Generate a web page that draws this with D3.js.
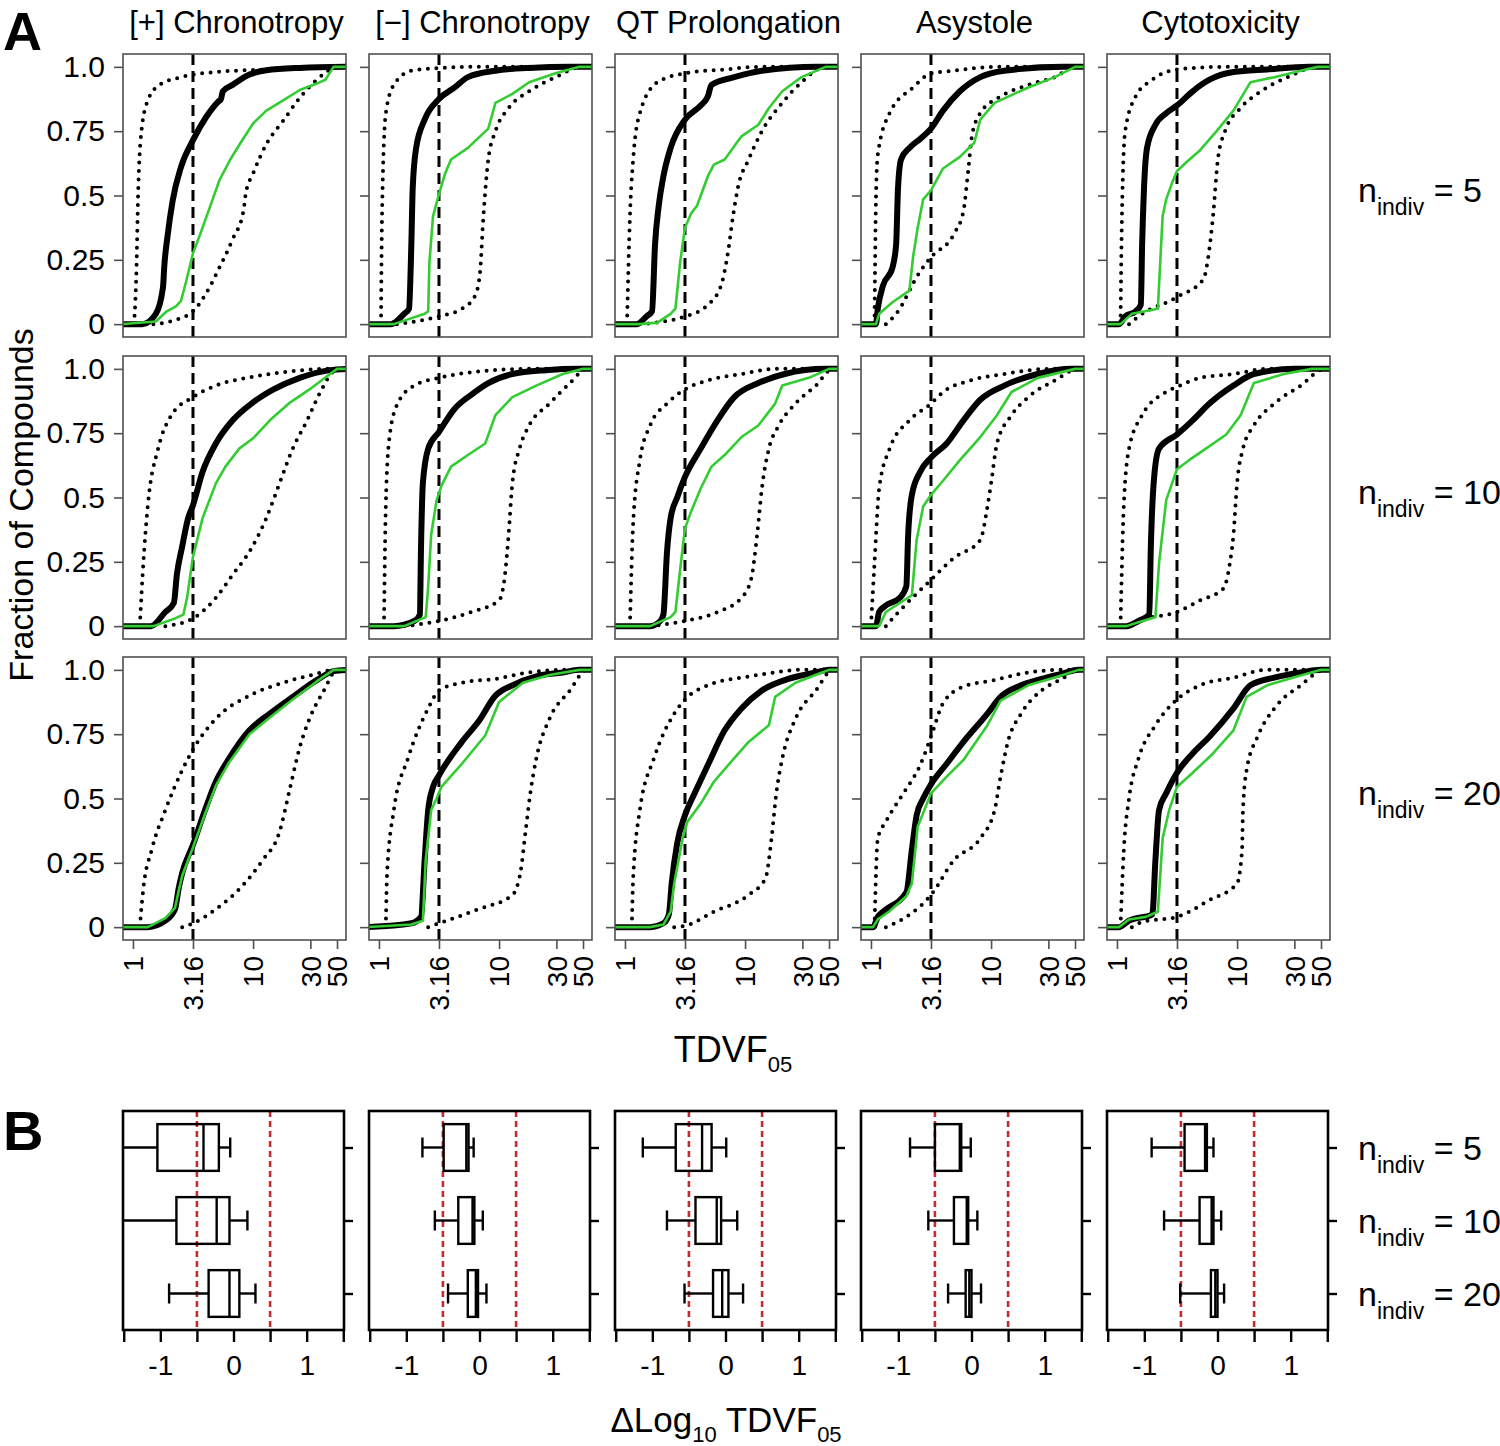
<!DOCTYPE html>
<html><head><meta charset="utf-8">
<script src="https://cdn.jsdelivr.net/npm/d3@7"></script>
<style>body{margin:0;background:#fff}text{font-family:"Liberation Sans",Arial,sans-serif;fill:#000}</style>
</head><body>
<svg id="c" width="1500" height="1446"></svg>
<script>
// ---------------- DATA ----------------
const endpoints = ["[+] Chronotropy","[\u2212] Chronotropy","QT Prolongation","Asystole","Cytotoxicity"];
const nIndiv = [5, 10, 20];
const xTicks = [1, 3.16, 10, 30, 50];
const xTickLabels = ["1", "3.16", "10", "30", "50"];
const yTicks = [0, 0.25, 0.5, 0.75, 1];
const yTickLabels = ["0", "0.25", "0.5", "0.75", "1.0"];
const threshold = 3.16;

// CDF curves: [TDVF05, fraction of compounds]
// [+] Chronotropy
const pc5Black = [[0.8,0],[1.20,0],[1.55,0.04],[1.78,0.145],[1.82,0.22],[1.95,0.35],[2.14,0.48],[2.51,0.61],[3.16,0.715],[4.07,0.805],[5.13,0.865],[5.4,0.875],[5.6,0.905],[6.76,0.93],[9.33,0.97],[12.9,0.987],[24.5,0.996],[60,1]];
const pc5Green = [[0.8,0],[1.55,0.01],[1.91,0.05],[2.29,0.07],[2.51,0.09],[2.75,0.16],[3.16,0.275],[3.63,0.35],[4.37,0.455],[5.25,0.56],[6.46,0.64],[7.76,0.70],[10,0.78],[12.9,0.83],[17.8,0.87],[24.5,0.91],[33.9,0.935],[40,0.95],[46.8,1],[60,1]];
const pc5DotL = [[1.02,0],[1.07,0.22],[1.10,0.48],[1.17,0.74],[1.33,0.87],[1.66,0.93],[2.29,0.955],[3.16,0.97],[4.90,0.98],[12.9,0.99],[33.9,1],[60,1]];
const pc5DotR = [[1.48,0],[2.14,0.013],[3.16,0.05],[4.07,0.12],[5.25,0.22],[6.76,0.33],[8.32,0.44],[8.71,0.51],[10,0.585],[12.9,0.70],[17.8,0.79],[24.5,0.88],[33.9,0.95],[43.7,0.99],[46.8,1],[60,1]];
const pc10Black = [[0.8,0],[1.41,0],[1.86,0.055],[2.19,0.09],[2.32,0.2],[2.57,0.31],[2.88,0.42],[3.16,0.47],[3.80,0.6],[4.90,0.71],[6.76,0.80],[10,0.87],[14.8,0.92],[24.5,0.965],[43.7,0.995],[60,1]];
const pc10Green = [[0.8,0],[1.48,0],[2.24,0.03],[2.63,0.045],[2.82,0.11],[3.16,0.27],[3.80,0.42],[4.90,0.555],[5.89,0.62],[7.67,0.69],[10,0.73],[13.8,0.80],[20.4,0.87],[29.5,0.92],[43.7,0.98],[50.1,1],[60,1]];
const pc10DotL = [[1.14,0],[1.22,0.245],[1.33,0.47],[1.62,0.69],[2.09,0.82],[3.16,0.89],[4.90,0.935],[9.33,0.967],[20.4,0.99],[38.9,1],[60,1]];
const pc10DotR = [[1.86,0],[3.16,0.03],[4.90,0.11],[6.76,0.2],[9.33,0.29],[12.9,0.42],[16.6,0.555],[21.4,0.69],[28.2,0.8],[36.3,0.91],[46.8,0.99],[53.7,1],[60,1]];
const pc20Black = [[0.8,0],[1.33,0],[1.86,0.025],[2.24,0.07],[2.40,0.15],[2.57,0.21],[3.16,0.32],[3.98,0.455],[4.90,0.565],[6.31,0.655],[9.33,0.765],[13.8,0.83],[21.4,0.895],[33.9,0.96],[46.8,0.995],[60,1]];
const pc20Green = [[0.8,0],[1.33,0],[1.86,0.035],[2.24,0.075],[2.40,0.14],[2.57,0.2],[3.16,0.31],[3.98,0.44],[4.90,0.55],[6.31,0.64],[9.33,0.75],[13.8,0.815],[21.4,0.885],[33.9,0.955],[46.8,1],[60,1]];
const pc20DotL = [[1.14,0],[1.22,0.15],[1.43,0.30],[1.86,0.455],[2.57,0.61],[3.16,0.69],[4.90,0.81],[9.33,0.90],[17.8,0.95],[33.9,0.985],[46.8,1],[60,1]];
const pc20DotR = [[2.57,0],[3.16,0.015],[4.90,0.07],[8.13,0.16],[12.0,0.26],[16.6,0.37],[20.4,0.545],[24.5,0.70],[29.5,0.81],[38.9,0.92],[50.1,1],[60,1]];
// [-] Chronotropy
const mc5Black = [[0.8,0],[1.26,0],[1.62,0.04],[1.78,0.06],[1.86,0.31],[1.91,0.53],[2.04,0.685],[2.40,0.795],[3.16,0.875],[4.27,0.92],[5.50,0.96],[9.33,0.985],[17.8,0.996],[40,1],[60,1]];
const mc5Green = [[0.8,0],[1.33,0],[2.40,0.04],[2.57,0.05],[2.63,0.24],[2.82,0.42],[3.16,0.505],[3.55,0.585],[3.98,0.64],[5.50,0.685],[8.13,0.76],[9.33,0.86],[12.9,0.895],[17.8,0.94],[29.5,0.975],[46.8,1],[60,1]];
const mc5DotL = [[1.04,0],[1.06,0.42],[1.14,0.82],[1.33,0.93],[1.86,0.985],[3.16,0.995],[6,1],[60,1]];
const mc5DotR = [[1.41,0],[3.16,0.03],[4.90,0.06],[6.31,0.11],[6.92,0.195],[7.41,0.42],[8.13,0.64],[9.33,0.75],[12.0,0.84],[17.8,0.905],[29.5,0.96],[50.1,1],[60,1]];
const mc10Black = [[0.8,0],[1.33,0],[1.97,0.02],[2.19,0.045],[2.24,0.31],[2.32,0.555],[2.57,0.69],[3.16,0.755],[4.27,0.845],[5.89,0.90],[8.13,0.945],[12.9,0.98],[24.5,0.995],[46.8,1],[60,1]];
const mc10Green = [[0.8,0],[1.62,0],[2.45,0.035],[2.57,0.155],[2.72,0.355],[3.02,0.49],[3.31,0.545],[3.98,0.62],[5.50,0.665],[7.67,0.71],[9.33,0.82],[12.9,0.89],[20.4,0.935],[33.9,0.98],[50.1,1],[60,1]];
const mc10DotL = [[1.10,0],[1.14,0.47],[1.22,0.73],[1.43,0.865],[1.97,0.935],[3.16,0.965],[6.76,0.99],[17.8,1],[60,1]];
const mc10DotR = [[1.62,0],[3.16,0.02],[5.89,0.055],[10,0.1],[11.2,0.2],[12.0,0.355],[12.9,0.555],[14.8,0.69],[17.8,0.78],[26.3,0.865],[38.9,0.945],[53.7,1],[60,1]];
const mc20Black = [[0.8,0],[1.86,0.015],[2.24,0.04],[2.40,0.26],[2.57,0.455],[2.82,0.545],[3.16,0.59],[4.90,0.72],[6.76,0.80],[9.33,0.90],[12.9,0.94],[20.4,0.975],[33.9,0.99],[46.8,1],[60,1]];
const mc20Green = [[0.8,0],[1.86,0.01],[2.32,0.025],[2.45,0.26],[2.72,0.455],[3.02,0.50],[3.31,0.545],[4.90,0.635],[7.67,0.745],[10,0.875],[15.8,0.95],[26.3,0.98],[46.8,1],[60,1]];
const mc20DotL = [[1.14,0],[1.17,0.215],[1.33,0.455],[1.74,0.655],[2.57,0.85],[3.16,0.92],[4.90,0.95],[9.33,0.965],[17.8,0.99],[33.9,1],[60,1]];
const mc20DotR = [[2.57,0],[3.16,0.015],[6.76,0.07],[12.9,0.125],[15.1,0.215],[16.6,0.37],[18.2,0.52],[20.4,0.655],[26.3,0.81],[38.9,0.92],[53.7,1],[60,1]];
// QT Prolongation
const qt5Black = [[0.8,0],[1.26,0],[1.51,0.03],[1.68,0.05],[1.78,0.31],[1.91,0.46],[2.09,0.575],[2.40,0.685],[3.16,0.795],[4.27,0.85],[4.90,0.885],[5.25,0.93],[8.13,0.96],[13.8,0.985],[40,1],[60,1]];
const qt5Green = [[0.8,0],[1.33,0],[1.86,0.006],[2.40,0.04],[2.63,0.06],[2.88,0.24],[3.16,0.375],[3.55,0.43],[3.98,0.46],[4.90,0.575],[5.50,0.62],[6.76,0.64],[9.33,0.73],[12.9,0.775],[15.8,0.84],[20.4,0.905],[29.5,0.96],[46.8,1],[60,1]];
const qt5DotL = [[1.04,0],[1.10,0.42],[1.17,0.64],[1.33,0.82],[1.86,0.94],[3.16,0.975],[6.76,0.99],[12.9,1],[60,1]];
const qt5DotR = [[1.33,0],[3.16,0.03],[4.90,0.075],[6.31,0.15],[7.24,0.285],[7.94,0.42],[8.71,0.53],[10.7,0.64],[13.8,0.75],[20.4,0.86],[29.5,0.94],[46.8,1],[60,1]];
const qt10Black = [[0.8,0],[1.62,0],[1.97,0.02],[2.09,0.045],[2.24,0.29],[2.40,0.42],[2.72,0.50],[3.16,0.58],[4.27,0.69],[5.89,0.80],[8.13,0.89],[12.9,0.945],[21.4,0.98],[46.8,1],[60,1]];
const qt10Green = [[0.8,0],[1.62,0],[2.40,0.035],[2.63,0.055],[2.88,0.22],[3.16,0.38],[3.55,0.445],[4.27,0.535],[5.25,0.62],[6.76,0.665],[9.33,0.735],[12.9,0.78],[17.8,0.865],[20.4,0.935],[33.9,0.965],[50.1,1],[60,1]];
const qt10DotL = [[1.10,0],[1.17,0.4],[1.33,0.645],[1.62,0.78],[2.24,0.865],[3.16,0.92],[4.90,0.955],[9.33,0.98],[17.8,1],[60,1]];
const qt10DotR = [[1.62,0],[3.16,0.02],[5.89,0.055],[9.33,0.11],[11.2,0.18],[12.6,0.355],[13.8,0.535],[15.8,0.69],[19.1,0.78],[26.3,0.865],[38.9,0.935],[53.7,1],[60,1]];
const qt20Black = [[0.8,0],[1.62,0],[2.09,0.015],[2.32,0.05],[2.45,0.17],[2.72,0.325],[3.16,0.435],[3.80,0.52],[4.90,0.63],[6.76,0.765],[9.33,0.85],[13.8,0.92],[22.9,0.965],[38.9,0.99],[50.1,1],[60,1]];
const qt20Green = [[0.8,0],[1.62,0],[2.09,0.01],[2.40,0.06],[2.57,0.17],[3.02,0.345],[3.31,0.41],[4.27,0.48],[5.50,0.565],[7.24,0.63],[10.7,0.72],[15.8,0.785],[17.8,0.895],[26.3,0.95],[43.7,0.99],[50.1,1],[60,1]];
const qt20DotL = [[1.14,0],[1.17,0.19],[1.33,0.455],[1.74,0.655],[2.57,0.83],[3.16,0.885],[4.90,0.94],[11,0.975],[17.8,0.99],[28,1],[60,1]];
const qt20DotR = [[2.57,0],[3.16,0.005],[5.50,0.06],[10.7,0.125],[14.8,0.19],[16.6,0.345],[18.2,0.52],[20.4,0.655],[26.3,0.81],[38.9,0.92],[53.7,1],[60,1]];
// Asystole
const as5Black = [[0.8,0],[1.10,0],[1.14,0.06],[1.26,0.15],[1.51,0.22],[1.62,0.31],[1.68,0.53],[1.78,0.64],[2.09,0.685],[2.57,0.72],[3.16,0.76],[3.98,0.83],[5.50,0.905],[8.13,0.96],[12.9,0.985],[40,1],[60,1]];
const as5Green = [[0.8,0],[1.10,0],[1.17,0.04],[1.51,0.085],[2.09,0.13],[2.24,0.26],[2.45,0.375],[2.72,0.485],[3.16,0.52],[3.98,0.605],[5.50,0.65],[7.24,0.705],[8.13,0.795],[10.7,0.86],[20.4,0.92],[33.9,0.96],[50.1,1],[60,1]];
const as5DotL = [[1.07,0],[1.10,0.485],[1.14,0.66],[1.43,0.82],[2.24,0.92],[3.16,0.975],[4.90,0.985],[10.7,1],[60,1]];
const as5DotR = [[1.33,0],[1.62,0.04],[2.57,0.205],[3.16,0.26],[4.90,0.35],[5.89,0.44],[6.46,0.6],[6.92,0.73],[8.13,0.82],[12.0,0.885],[20.4,0.93],[33.9,0.96],[50.1,1],[60,1]];
const as10Black = [[0.8,0],[1.10,0],[1.17,0.055],[1.33,0.08],[1.74,0.11],[1.97,0.155],[2.04,0.355],[2.19,0.51],[2.57,0.60],[3.16,0.655],[4.27,0.71],[5.89,0.80],[8.13,0.88],[12.9,0.935],[24.5,0.98],[46.8,1],[60,1]];
const as10Green = [[0.8,0],[1.17,0],[1.33,0.055],[1.74,0.09],[2.19,0.12],[2.40,0.335],[2.72,0.465],[3.16,0.51],[3.98,0.565],[5.50,0.645],[8.13,0.735],[11.2,0.82],[14.8,0.91],[24.5,0.965],[50.1,1],[60,1]];
const as10DotL = [[1.0,0],[1.07,0.245],[1.17,0.535],[1.43,0.69],[2.09,0.80],[3.16,0.865],[3.98,0.91],[6.76,0.955],[12.9,0.98],[30,1],[60,1]];
const as10DotR = [[1.33,0],[1.62,0.045],[3.16,0.18],[4.90,0.265],[8.13,0.335],[9.33,0.465],[10,0.555],[11.2,0.71],[14.8,0.82],[20.4,0.89],[33.9,0.955],[53.7,1],[60,1]];
const as20Black = [[0.8,0],[1.04,0],[1.14,0.04],[1.26,0.06],[1.97,0.135],[2.19,0.3],[2.40,0.435],[2.72,0.50],[3.16,0.555],[4.27,0.635],[5.89,0.72],[9.33,0.83],[12.0,0.895],[17.8,0.94],[26.3,0.965],[38.9,0.985],[53.7,1],[60,1]];
const as20Green = [[0.8,0],[1.04,0],[1.14,0.03],[1.41,0.06],[1.97,0.12],[2.19,0.17],[2.45,0.39],[3.16,0.52],[4.27,0.585],[5.89,0.65],[9.33,0.785],[12.0,0.88],[20.4,0.94],[33.9,0.97],[53.7,1],[60,1]];
const as20DotL = [[1.07,0],[1.14,0.345],[1.33,0.41],[1.86,0.52],[2.57,0.63],[3.16,0.74],[3.98,0.87],[5.89,0.935],[10.7,0.96],[17.8,0.985],[38,1],[60,1]];
const as20DotR = [[1.33,0],[1.97,0.04],[3.16,0.125],[4.90,0.26],[8.13,0.345],[10.7,0.455],[12.0,0.585],[13.8,0.72],[17.8,0.83],[26.3,0.92],[38.9,0.965],[53.7,1],[60,1]];
// Cytotoxicity
const cy5Black = [[0.8,0],[1.04,0],[1.17,0.03],[1.43,0.05],[1.58,0.075],[1.62,0.31],[1.68,0.53],[1.78,0.685],[2.09,0.775],[2.57,0.82],[3.16,0.85],[4.27,0.905],[5.89,0.95],[9.33,0.98],[17.8,0.99],[40,1],[60,1]];
const cy5Green = [[0.8,0],[1.07,0],[1.33,0.04],[2.19,0.06],[2.24,0.15],[2.40,0.42],[2.57,0.485],[2.88,0.55],[3.16,0.595],[3.80,0.63],[4.90,0.675],[6.76,0.75],[9.33,0.83],[12.9,0.94],[20.4,0.96],[33.9,0.985],[46.8,1],[60,1]];
const cy5DotL = [[1.07,0],[1.10,0.42],[1.17,0.75],[1.43,0.885],[1.97,0.95],[3.16,0.99],[8,1],[60,1]];
const cy5DotR = [[1.26,0],[1.51,0.03],[3.16,0.105],[5.25,0.175],[5.75,0.26],[6.31,0.42],[6.92,0.64],[7.94,0.75],[10.7,0.84],[15.8,0.905],[26.3,0.96],[46.8,1],[60,1]];
const cy10Black = [[0.8,0],[1.20,0],[1.51,0.02],[1.86,0.045],[1.91,0.29],[2.04,0.58],[2.24,0.69],[3.16,0.745],[4.27,0.80],[5.89,0.865],[9.33,0.935],[13.8,0.98],[30,1],[60,1]];
const cy10Green = [[0.8,0],[1.20,0],[1.51,0.015],[2.09,0.035],[2.24,0.245],[2.57,0.49],[3.16,0.61],[3.98,0.645],[5.50,0.69],[8.13,0.745],[10.7,0.82],[13.8,0.945],[24.5,0.98],[42,1],[60,1]];
const cy10DotL = [[1.07,0],[1.14,0.47],[1.26,0.69],[1.62,0.82],[2.57,0.91],[3.16,0.93],[4.90,0.965],[9.33,0.98],[17.8,1],[60,1]];
const cy10DotR = [[1.26,0],[1.51,0.02],[3.16,0.055],[4.90,0.10],[7.67,0.145],[8.71,0.245],[9.33,0.355],[10,0.555],[11.2,0.69],[13.8,0.78],[20.4,0.865],[33.9,0.935],[53.7,1],[60,1]];
const cy20Black = [[0.8,0],[1.04,0],[1.26,0.025],[1.97,0.05],[2.09,0.26],[2.24,0.455],[2.57,0.52],[3.16,0.60],[4.27,0.675],[5.89,0.74],[9.33,0.85],[12.9,0.94],[20.4,0.97],[33.9,0.99],[50.1,1],[60,1]];
const cy20Green = [[0.8,0],[1.04,0],[1.26,0.03],[1.74,0.04],[2.19,0.06],[2.40,0.345],[2.72,0.455],[3.16,0.545],[4.27,0.60],[6.31,0.675],[9.33,0.765],[12.0,0.895],[17.8,0.94],[29.5,0.97],[50.1,1],[60,1]];
const cy20DotL = [[1.07,0],[1.14,0.3],[1.26,0.5],[1.51,0.655],[2.09,0.785],[3.16,0.885],[4.90,0.94],[9.33,0.97],[17.8,1],[60,1]];
const cy20DotR = [[1.33,0],[1.62,0.02],[3.16,0.04],[5.89,0.105],[10,0.17],[11.0,0.3],[11.2,0.455],[12.0,0.61],[14.8,0.74],[20.4,0.85],[33.9,0.94],[53.7,1],[60,1]];

// Panel B: Δlog10 TDVF05 boxplots [lower whisker, Q1, median, Q3, upper whisker]
const deltaPC = [[-1.9,-1.04,-0.41,-0.20,-0.045],[-2.0,-0.78,-0.23,-0.055,0.19],[-0.88,-0.34,-0.055,0.08,0.30]];
const deltaMC = [[-0.78,-0.49,-0.18,-0.15,-0.08],[-0.61,-0.29,-0.095,-0.07,0.045],[-0.43,-0.16,-0.05,-0.02,0.095]];
const deltaQT = [[-1.13,-0.68,-0.32,-0.19,0.01],[-0.80,-0.41,-0.12,-0.06,0.16],[-0.56,-0.17,-0.045,0.04,0.24]];
const deltaAS = [[-0.84,-0.50,-0.16,-0.14,-0.01],[-0.59,-0.24,-0.065,-0.045,0.08],[-0.32,-0.08,-0.03,0.0,0.13]];
const deltaCY = [[-0.90,-0.45,-0.17,-0.145,-0.055],[-0.73,-0.245,-0.08,-0.055,0.05],[-0.51,-0.09,-0.03,0.0,0.09]];
const bTicks = [-1.5, -1, -0.5, 0, 0.5, 1, 1.5];
const bTickLabels = [-1, 0, 1];
const refLines = [-0.5, 0.5];

// ---------------- LAYOUT ----------------
const cdf = [
  [[pc5Black,pc5Green,pc5DotL,pc5DotR],[mc5Black,mc5Green,mc5DotL,mc5DotR],[qt5Black,qt5Green,qt5DotL,qt5DotR],[as5Black,as5Green,as5DotL,as5DotR],[cy5Black,cy5Green,cy5DotL,cy5DotR]],
  [[pc10Black,pc10Green,pc10DotL,pc10DotR],[mc10Black,mc10Green,mc10DotL,mc10DotR],[qt10Black,qt10Green,qt10DotL,qt10DotR],[as10Black,as10Green,as10DotL,as10DotR],[cy10Black,cy10Green,cy10DotL,cy10DotR]],
  [[pc20Black,pc20Green,pc20DotL,pc20DotR],[mc20Black,mc20Green,mc20DotL,mc20DotR],[qt20Black,qt20Green,qt20DotL,qt20DotR],[as20Black,as20Green,as20DotL,as20DotR],[cy20Black,cy20Green,cy20DotL,cy20DotR]]
];
const deltas = [deltaPC, deltaMC, deltaQT, deltaAS, deltaCY];

const svg = d3.select("#c");
const colX = endpoints.map((_, i) => 123 + 246 * i);
const rowY = [54, 356, 657];
const PW = 223, PH = 283;
const FRAME = "#505050";
const GREEN = "#33cc33";
const FONT = "Liberation Sans, Arial, sans-serif";

const x = d3.scaleLog().domain([0.826, 59.4]).range([0, PW]);
const y = d3.scaleLinear().domain([-0.05, 1.05]).range([PH, 0]);
const smooth = d3.line().x(d => x(d[0])).y(d => y(d[1])).curve(d3.curveMonotoneX);
const line = d3.line().x(d => x(d[0])).y(d => y(d[1]));

const defs = svg.append("defs");
defs.append("clipPath").attr("id", "clipA").append("rect").attr("x", 0).attr("y", 0).attr("width", PW).attr("height", PH);

// Panel letters
svg.append("text").attr("x", 3).attr("y", 50).attr("font-size", 54).attr("font-weight", "bold").text("A");
svg.append("text").attr("x", 3).attr("y", 1150).attr("font-size", 56).attr("font-weight", "bold").text("B");

// Column titles
endpoints.forEach((name, c) => {
  svg.append("text").attr("x", colX[c] + PW / 2 + 2).attr("y", 33).attr("text-anchor", "middle")
    .attr("font-size", 31).text(name);
});

// Panel A
cdf.forEach((row, r) => {
  row.forEach((series, c) => {
    const g = svg.append("g").attr("transform", `translate(${colX[c]},${rowY[r]})`);
    const inner = g.append("g").attr("clip-path", "url(#clipA)");
    inner.append("line").attr("x1", x(threshold)).attr("x2", x(threshold)).attr("y1", 0).attr("y2", PH)
      .attr("stroke", "#000").attr("stroke-width", 3).attr("stroke-dasharray", "11,6");
    [series[2], series[3]].forEach(s => {
      inner.append("path").attr("d", smooth(s)).attr("fill", "none").attr("stroke", "#000")
        .attr("stroke-width", 4).attr("stroke-dasharray", "0,8.5").attr("stroke-linecap", "round");
    });
    inner.append("path").attr("d", smooth(series[0])).attr("fill", "none").attr("stroke", "#000")
      .attr("stroke-width", 6).attr("stroke-linejoin", "round");
    inner.append("path").attr("d", line(series[1])).attr("fill", "none").attr("stroke", GREEN)
      .attr("stroke-width", 2.6).attr("stroke-linejoin", "round");
    g.append("rect").attr("width", PW).attr("height", PH).attr("fill", "none")
      .attr("stroke", FRAME).attr("stroke-width", 1.6);
    const ya = g.append("g").call(d3.axisLeft(y).tickValues(yTicks).tickSize(9).tickFormat((d, i) => c === 0 ? yTickLabels[i] : ""));
    ya.select(".domain").remove();
    ya.selectAll(".tick line").attr("stroke", FRAME).attr("stroke-width", 1.6);
    ya.selectAll(".tick text").attr("font-size", 30).attr("font-family", FONT).attr("fill", "#000").attr("x", -18);
    if (r === 2) {
      const xa = g.append("g").attr("transform", `translate(0,${PH})`)
        .call(d3.axisBottom(x).tickValues(xTicks).tickSize(9).tickFormat((d, i) => xTickLabels[i]));
      xa.select(".domain").remove();
      xa.selectAll(".tick line").attr("stroke", FRAME).attr("stroke-width", 1.6);
      xa.selectAll(".tick text").attr("font-size", 28).attr("font-family", FONT)
        .attr("fill", "#000").attr("text-anchor", "end").attr("transform", "rotate(-90)")
        .attr("x", -16).attr("y", 0).attr("dy", "0.35em");
    }
  });
  const t = svg.append("text").attr("x", 1358).attr("y", rowY[r] + PH / 2 + 6);
  t.append("tspan").attr("font-size", 34).text("n");
  t.append("tspan").attr("font-size", 23).attr("dy", 13).text("indiv");
  t.append("tspan").attr("font-size", 34).attr("dy", -13).text(" = " + nIndiv[r]);
});

// Axis titles panel A
svg.append("text").attr("transform", "translate(33,505) rotate(-90)").attr("text-anchor", "middle")
  .attr("font-size", 34).text("Fraction of Compounds");
const tx = svg.append("text").attr("x", 733).attr("y", 1062).attr("text-anchor", "middle");
tx.append("tspan").attr("font-size", 36).text("TDVF");
tx.append("tspan").attr("font-size", 22).attr("dy", 10).text("05");

// Panel B
const BT = 1111, BW = 221, BH = 219;
const xb = d3.scaleLinear().domain([-1.51, 1.51]).range([0, BW]);
const yb = d3.scaleLinear().domain([0.5, 3.5]).range([0, BH]);
defs.append("clipPath").attr("id", "clipB").append("rect").attr("x", 0).attr("y", 0).attr("width", BW).attr("height", BH);
const half = 0.32, capH = 10;
deltas.forEach((stats, c) => {
  const g = svg.append("g").attr("transform", `translate(${colX[c]},${BT})`);
  const inner = g.append("g").attr("clip-path", "url(#clipB)");
  refLines.forEach(v => {
    inner.append("line").attr("x1", xb(v)).attr("x2", xb(v)).attr("y1", 0).attr("y2", BH)
      .attr("stroke", "#c62a2f").attr("stroke-width", 2.6).attr("stroke-dasharray", "6,4");
  });
  stats.forEach((s, i) => {
    const cy = yb(i + 1);
    const bg = inner.append("g").attr("stroke", "#000").attr("stroke-width", 2.4).attr("fill", "none");
    bg.append("line").attr("x1", xb(s[0])).attr("x2", xb(s[1])).attr("y1", cy).attr("y2", cy);
    bg.append("line").attr("x1", xb(s[3])).attr("x2", xb(s[4])).attr("y1", cy).attr("y2", cy);
    bg.append("line").attr("x1", xb(s[0])).attr("x2", xb(s[0])).attr("y1", cy - capH).attr("y2", cy + capH);
    bg.append("line").attr("x1", xb(s[4])).attr("x2", xb(s[4])).attr("y1", cy - capH).attr("y2", cy + capH);
    bg.append("rect").attr("x", xb(s[1])).attr("y", yb(i + 1 - half)).attr("width", xb(s[3]) - xb(s[1]))
      .attr("height", yb(i + 1 + half) - yb(i + 1 - half));
    bg.append("line").attr("x1", xb(s[2])).attr("x2", xb(s[2])).attr("y1", yb(i + 1 - half)).attr("y2", yb(i + 1 + half));
  });
  g.append("rect").attr("width", BW).attr("height", BH).attr("fill", "none").attr("stroke", "#000").attr("stroke-width", 2.6);
  const xa = g.append("g").attr("transform", `translate(0,${BH})`)
    .call(d3.axisBottom(xb).tickValues(bTicks).tickSize(12).tickFormat(d => bTickLabels.includes(d) ? String(d) : ""));
  xa.select(".domain").remove();
  xa.selectAll(".tick line").attr("stroke", "#000").attr("stroke-width", 2.4);
  xa.selectAll(".tick text").attr("font-size", 28).attr("font-family", FONT).attr("fill", "#000").attr("y", 25);
  const ya = g.append("g").attr("transform", `translate(${BW},0)`)
    .call(d3.axisRight(yb).tickValues([1, 2, 3]).tickSize(9).tickFormat(""));
  ya.select(".domain").remove();
  ya.selectAll(".tick line").attr("stroke", "#000").attr("stroke-width", 2.4);
});
nIndiv.forEach((n, i) => {
  const t = svg.append("text").attr("x", 1358).attr("y", BT + yb(i + 1) + 12);
  t.append("tspan").attr("font-size", 34).text("n");
  t.append("tspan").attr("font-size", 23).attr("dy", 13).text("indiv");
  t.append("tspan").attr("font-size", 34).attr("dy", -13).text(" = " + n);
});
const tb = svg.append("text").attr("x", 726).attr("y", 1432).attr("text-anchor", "middle");
tb.append("tspan").attr("font-size", 35).text("\u0394Log");
tb.append("tspan").attr("font-size", 22).attr("dy", 10).text("10");
tb.append("tspan").attr("font-size", 35).attr("dy", -10).text(" TDVF");
tb.append("tspan").attr("font-size", 22).attr("dy", 10).text("05");
</script>
</body></html>
